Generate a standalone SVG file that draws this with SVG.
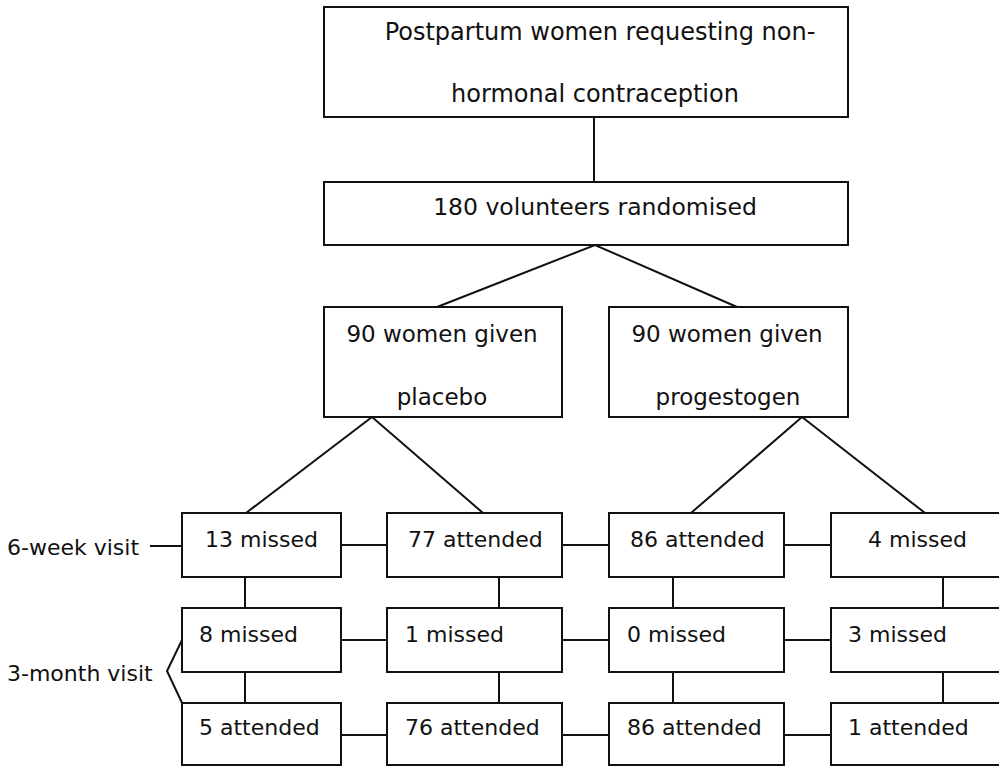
<svg xmlns="http://www.w3.org/2000/svg" width="999" height="766" viewBox="0 0 999 766">
<style>
.box{fill:#fff;stroke:#111;stroke-width:2}
.ln{fill:none;stroke:#111;stroke-width:2}
text{font-family:"DejaVu Sans","Liberation Sans",sans-serif;font-size:22px;fill:#111}
.m{text-anchor:middle}
.big{font-size:24px}
.mid{font-size:23.5px}
.md{font-size:23px}
</style>
<rect width="999" height="766" fill="#fff"/>
<g id="connectors">
<line class="ln" x1="594" y1="117" x2="594" y2="182"/>
<polyline class="ln" points="437,307 595,245 737,307"/>
<polyline class="ln" points="246,513 372,417 483,513"/>
<polyline class="ln" points="691,513 802,417 925,513"/>
<line class="ln" x1="150" y1="546" x2="182" y2="546"/>
<polyline class="ln" points="182,640 167,671 183,705"/>
<line class="ln" x1="341" y1="545" x2="387" y2="545"/>
<line class="ln" x1="562" y1="545" x2="609" y2="545"/>
<line class="ln" x1="784" y1="545" x2="831" y2="545"/>
<line class="ln" x1="341" y1="640" x2="387" y2="640"/>
<line class="ln" x1="562" y1="640" x2="609" y2="640"/>
<line class="ln" x1="784" y1="640" x2="831" y2="640"/>
<line class="ln" x1="341" y1="735" x2="387" y2="735"/>
<line class="ln" x1="562" y1="735" x2="609" y2="735"/>
<line class="ln" x1="784" y1="735" x2="831" y2="735"/>
<line class="ln" x1="245" y1="577" x2="245" y2="608"/>
<line class="ln" x1="245" y1="672" x2="245" y2="703"/>
<line class="ln" x1="499" y1="577" x2="499" y2="608"/>
<line class="ln" x1="499" y1="672" x2="499" y2="703"/>
<line class="ln" x1="673" y1="577" x2="673" y2="608"/>
<line class="ln" x1="673" y1="672" x2="673" y2="703"/>
<line class="ln" x1="943" y1="577" x2="943" y2="608"/>
<line class="ln" x1="943" y1="672" x2="943" y2="703"/>
</g>
<g id="n-start"><rect class="box" x="324" y="7" width="524" height="110"/>
<text class="m big" x="600" y="40">Postpartum women requesting non-</text>
<text class="m big" x="595" y="102">hormonal contraception</text></g>
<g id="n-rand"><rect class="box" x="324" y="182" width="524" height="63"/>
<text class="m mid" x="595" y="215">180 volunteers randomised</text></g>
<g id="n-placebo"><rect class="box" x="324" y="307" width="238" height="110"/>
<text class="m md" x="442" y="342">90 women given</text>
<text class="m md" x="442" y="405">placebo</text></g>
<g id="n-prog"><rect class="box" x="609" y="307" width="239" height="110"/>
<text class="m md" x="727" y="342">90 women given</text>
<text class="m md" x="728" y="405">progestogen</text></g>
<g id="lbl-6wk"><text x="7" y="555">6-week visit</text></g>
<g id="lbl-3mo"><text x="7" y="681">3-month visit</text></g>
<g id="r1c1"><rect class="box" x="182" y="513" width="159" height="64"/><text x="205" y="547">13 missed</text></g>
<g id="r1c2"><rect class="box" x="387" y="513" width="175" height="64"/><text x="408" y="547">77 attended</text></g>
<g id="r1c3"><rect class="box" x="609" y="513" width="175" height="64"/><text x="630" y="547">86 attended</text></g>
<g id="r1c4"><rect class="box" x="831" y="513" width="180" height="64"/><text x="868" y="547">4 missed</text></g>
<g id="r2c1"><rect class="box" x="182" y="608" width="159" height="64"/><text x="199" y="642">8 missed</text></g>
<g id="r2c2"><rect class="box" x="387" y="608" width="175" height="64"/><text x="405" y="642">1 missed</text></g>
<g id="r2c3"><rect class="box" x="609" y="608" width="175" height="64"/><text x="627" y="642">0 missed</text></g>
<g id="r2c4"><rect class="box" x="831" y="608" width="180" height="64"/><text x="848" y="642">3 missed</text></g>
<g id="r3c1"><rect class="box" x="182" y="703" width="159" height="62"/><text x="199" y="735">5 attended</text></g>
<g id="r3c2"><rect class="box" x="387" y="703" width="175" height="62"/><text x="405" y="735">76 attended</text></g>
<g id="r3c3"><rect class="box" x="609" y="703" width="175" height="62"/><text x="627" y="735">86 attended</text></g>
<g id="r3c4"><rect class="box" x="831" y="703" width="180" height="62"/><text x="848" y="735">1 attended</text></g>
</svg>
